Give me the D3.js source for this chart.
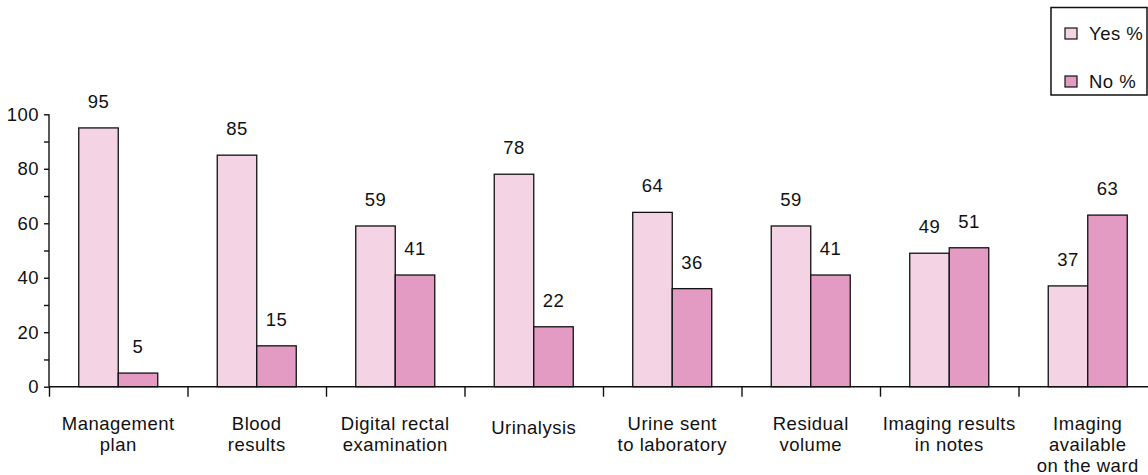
<!DOCTYPE html>
<html>
<head>
<meta charset="utf-8">
<script src="https://cdn.jsdelivr.net/npm/d3@7/dist/d3.min.js"></script>
<style>
  html, body { margin: 0; padding: 0; background: #fff; }
  svg { display: block; }
  text { font-family: "Liberation Sans", Arial, Helvetica, sans-serif; fill: #111; }
</style>
</head>
<body>
<svg id="chart" width="1148" height="475"></svg>
<script>
// Audit items (multi-line labels split on "|")
const categories = [
  "Management|plan",
  "Blood|results",
  "Digital rectal|examination",
  "Urinalysis",
  "Urine sent|to laboratory",
  "Residual|volume",
  "Imaging results|in notes",
  "Imaging|available|on the ward"
];
const yesValues = [95, 85, 59, 78, 64, 59, 49, 37];
const noValues  = [5, 15, 41, 22, 36, 41, 51, 63];
const seriesNames = ["Yes %", "No %"];
const yTicks = [0, 20, 40, 60, 80, 100];
const yMinorTicks = [10, 30, 50, 70, 90];

const colors = { "Yes %": "#f4d3e4", "No %": "#e39bc3" };
const fontSize = 18.5;
const letterSpacing = 0.5;

const svg = d3.select("#chart");
const plotLeft = 49, bandStep = 138.5;
const plotTop = 114.3, plotBottom = 386.7;

const x = d3.scaleBand()
  .domain(categories)
  .range([plotLeft, plotLeft + bandStep * categories.length])
  .padding(0);

const xInner = d3.scaleBand()
  .domain(seriesNames)
  .range([0, x.bandwidth()])
  .paddingInner(0)
  .paddingOuter(0.753);

const y = d3.scaleLinear().domain([0, 100]).range([plotBottom, plotTop]);

const rows = categories.map((c, i) => ({
  cat: c,
  vals: [
    { key: "Yes %", v: yesValues[i] },
    { key: "No %", v: noValues[i] }
  ]
}));

// Bars
const groups = svg.append("g").selectAll("g")
  .data(rows)
  .join("g")
  .attr("transform", d => `translate(${x(d.cat)},0)`);

groups.selectAll("rect")
  .data(d => d.vals)
  .join("rect")
  .attr("x", d => xInner(d.key))
  .attr("y", d => y(d.v))
  .attr("width", xInner.bandwidth())
  .attr("height", d => y(0) - y(d.v))
  .attr("fill", d => colors[d.key])
  .attr("stroke", "#111")
  .attr("stroke-width", 1.3);

// Value labels above bars
groups.selectAll("text.val")
  .data(d => d.vals)
  .join("text")
  .attr("class", "val")
  .attr("x", d => xInner(d.key) + xInner.bandwidth() / 2)
  .attr("y", d => y(d.v) - 20)
  .attr("text-anchor", "middle")
  .style("font-size", fontSize + "px")
  .style("letter-spacing", letterSpacing + "px")
  .text(d => d.v);

// Y axis with major and minor ticks
const yAxis = svg.append("g")
  .attr("transform", `translate(${plotLeft},0)`)
  .call(d3.axisLeft(y).tickValues(yTicks).tickSize(5).tickPadding(5));
svg.append("g")
  .attr("transform", `translate(${plotLeft},0)`)
  .call(d3.axisLeft(y).tickValues(yMinorTicks).tickSize(5).tickFormat(""))
  .call(g => g.select(".domain").remove());

svg.selectAll(".tick line, .domain").attr("stroke", "#111").attr("stroke-width", 1.4);
yAxis.select(".domain").attr("d", `M0,${plotBottom}V${plotTop}`);
yAxis.selectAll("text")
  .style("font-size", fontSize + "px")
  .style("letter-spacing", letterSpacing + "px")
  .attr("fill", "#111")
  .attr("font-family", null);

// X axis: boundary ticks between categories
const xb = d3.scaleLinear().domain([0, categories.length]).range(x.range());
const xAxis = svg.append("g")
  .attr("transform", `translate(0,${plotBottom})`)
  .call(d3.axisBottom(xb).tickValues(d3.range(0, categories.length + 1)).tickSize(10).tickFormat(""));
xAxis.select(".domain").attr("d", `M${plotLeft},0H1150`).attr("stroke", "#111").attr("stroke-width", 1.4);
xAxis.selectAll(".tick line").attr("stroke", "#111").attr("stroke-width", 1.4);

// Category labels
const lineH = 21;
svg.append("g").selectAll("text")
  .data(categories)
  .join("text")
  .attr("text-anchor", "middle")
  .style("font-size", fontSize + "px")
  .style("letter-spacing", letterSpacing + "px")
  .attr("transform", d => `translate(${x(d) + x.bandwidth() / 2},${d.includes("|") ? 429.5 : 433.5})`)
  .selectAll("tspan")
  .data(d => d.split("|"))
  .join("tspan")
  .attr("x", 0)
  .attr("y", (d, i) => i * lineH)
  .text(d => d);

// Legend
const legend = svg.append("g");
legend.append("rect")
  .attr("x", 1051).attr("y", 7.5)
  .attr("width", 96).attr("height", 87.5)
  .attr("fill", "#fff").attr("stroke", "#111").attr("stroke-width", 1.5);
const items = legend.selectAll("g.item")
  .data(seriesNames)
  .join("g")
  .attr("class", "item")
  .attr("transform", (d, i) => `translate(1065,${28 + i * 48})`);
items.append("rect")
  .attr("width", 12).attr("height", 11)
  .attr("fill", d => colors[d])
  .attr("stroke", "#111").attr("stroke-width", 1.2);
items.append("text")
  .attr("x", 24).attr("y", 11.5)
  .style("font-size", fontSize + "px")
  .style("letter-spacing", letterSpacing + "px")
  .text(d => d);
</script>
</body>
</html>
